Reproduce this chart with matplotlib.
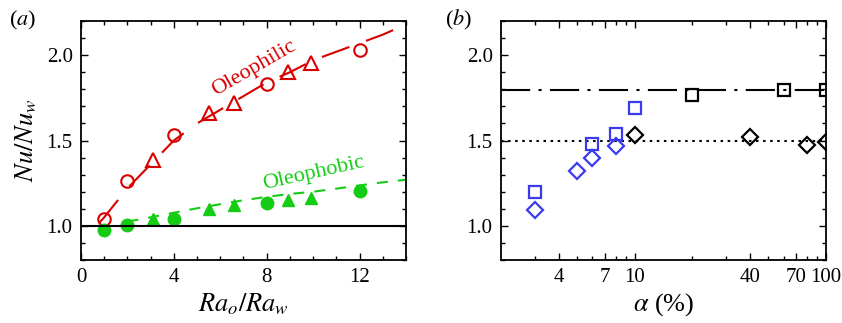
import matplotlib
matplotlib.use('Agg')
import matplotlib.pyplot as plt
from matplotlib.ticker import MultipleLocator, FixedLocator, NullFormatter

plt.rcParams['font.family'] = ['Liberation Serif', 'DejaVu Serif']
plt.rcParams['mathtext.fontset'] = 'stix'

RED = '#d90000'
GREEN = '#14cc14'
BLUE = '#3a3af0'

# panel (a): Nu/Nu_w against Ra_o/Ra_w
philic_circ_x = [1, 2, 4, 8, 12]
philic_circ_y = [1.04, 1.26, 1.53, 1.83, 2.03]
philic_tri_x = [3.1, 5.5, 6.6, 8.9, 9.9]
philic_tri_y = [1.385, 1.66, 1.72, 1.90, 1.955]
philic_fit_x = [0.8, 1, 2, 3, 4, 5, 6, 7, 8, 9, 10, 11, 12, 13, 14]
philic_fit_y = [1.02, 1.05, 1.22, 1.36, 1.50, 1.60, 1.68, 1.76, 1.84, 1.90, 1.97, 2.02, 2.07, 2.12, 2.18]

phobic_circ_x = [1, 2, 4, 8, 12]
phobic_circ_y = [0.977, 1.004, 1.04, 1.136, 1.206]
phobic_tri_x = [3.1, 5.5, 6.6, 8.9, 9.9]
phobic_tri_y = [1.04, 1.10, 1.124, 1.154, 1.163]
phobic_fit_x = [2, 3, 4, 5, 6, 7, 8, 9, 10, 11, 12, 13, 14]
phobic_fit_y = [1.025, 1.05, 1.077, 1.103, 1.127, 1.15, 1.17, 1.187, 1.20, 1.218, 1.237, 1.255, 1.27]

# panel (b): Nu/Nu_w against alpha (%)
blue_sq_x = [3, 6, 8, 10]
blue_sq_y = [1.20, 1.48, 1.54, 1.69]
black_sq_x = [20, 60, 100]
black_sq_y = [1.765, 1.794, 1.798]
blue_dia_x = [3, 5, 6, 8]
blue_dia_y = [1.09, 1.32, 1.40, 1.47]
black_dia_x = [10, 40, 80, 100]
black_dia_y = [1.533, 1.52, 1.475, 1.494]
sq_level = 1.795
dia_level = 1.5

alpha_ticks = [4, 7, 10, 40, 70, 100]
nu_ticks = [1.0, 1.5, 2.0]


def style_axis(ax):
    for s in ax.spines.values():
        s.set_linewidth(1.3)
    ax.tick_params(which='both', direction='in', top=True, right=True,
                   labelsize=15, pad=6, width=1.0)
    ax.tick_params(which='major', length=5)
    ax.tick_params(which='minor', length=3)
    ax.set_ylim(0.8, 2.2)
    ax.set_yticks(nu_ticks)
    ax.set_yticklabels([f'{v:.1f}' for v in nu_ticks])
    ax.yaxis.set_minor_locator(MultipleLocator(0.1))


fig = plt.figure(figsize=(8.42, 3.23), dpi=100)
ax1 = fig.add_axes([81 / 842, 63 / 323, 325 / 842, 239 / 323])
ax2 = fig.add_axes([501 / 842, 63 / 323, 325 / 842, 239 / 323])

# ---- panel (a)
ax1.axhline(1.0, color='black', lw=1.5, zorder=4)
ax1.plot(philic_fit_x, philic_fit_y, color=RED, lw=1.5, dashes=(14, 8.5), zorder=2)
ax1.plot(phobic_fit_x, phobic_fit_y, color=GREEN, lw=1.5, dashes=(5.3, 4.8), zorder=2)
ax1.plot(philic_circ_x, philic_circ_y, 'o', ms=9, mfc='none', mec=RED, mew=1.5, zorder=3)
ax1.plot(philic_tri_x, philic_tri_y, '^', ms=10, mfc='none', mec=RED, mew=1.5, zorder=3)
ax1.plot(phobic_circ_x, phobic_circ_y, 'o', ms=9, color=GREEN, zorder=3)
ax1.plot(phobic_tri_x, phobic_tri_y, '^', ms=9, color=GREEN, zorder=3)
ax1.text(7.44, 1.922, 'Oleophilic', color=RED, fontsize=16, rotation=30,
         ha='center', va='center', rotation_mode='anchor')
ax1.text(10.03, 1.305, 'Oleophobic', color=GREEN, fontsize=16, rotation=12.6,
         ha='center', va='center', rotation_mode='anchor')
style_axis(ax1)
ax1.set_xlim(0, 14)
ax1.set_xticks([0, 4, 8, 12])
ax1.xaxis.set_minor_locator(MultipleLocator(1))
ax1.set_xlabel('$Ra_o/Ra_w$', fontsize=19)
ax1.set_ylabel('$Nu/Nu_w$', fontsize=19)
ax1.xaxis.set_label_coords(0.5, -0.13)
ax1.yaxis.set_label_coords(-0.13, 0.5)
fig.text(9 / 842, 1 - 20 / 323, '($a$)', fontsize=16, va='center', ha='left')

# ---- panel (b)
ax2.set_xscale('log')
ax2.axhline(sq_level, color='black', lw=1.5, dashes=(14, 4, 1.5, 4), zorder=2)
ax2.axhline(dia_level, color='black', lw=1.5, dashes=(1.2, 2.2), zorder=2)
ax2.plot(blue_sq_x, blue_sq_y, 's', ms=8, mfc='none', mec=BLUE, mew=1.6, zorder=3)
ax2.plot(black_sq_x, black_sq_y, 's', ms=8, mfc='none', mec='black', mew=1.6, zorder=3)
ax2.plot(blue_dia_x, blue_dia_y, 'D', ms=8, mfc='none', mec=BLUE, mew=1.6, zorder=3)
ax2.plot(black_dia_x, black_dia_y, 'D', ms=8, mfc='none', mec='black', mew=1.6, zorder=3)
style_axis(ax2)
ax2.set_xlim(2, 100)
ax2.xaxis.set_major_locator(FixedLocator(alpha_ticks))
ax2.xaxis.set_minor_locator(FixedLocator([3, 5, 6, 8, 9, 20, 30, 50, 60, 80, 90]))
ax2.xaxis.set_minor_formatter(NullFormatter())
ax2.set_xticklabels([str(v) for v in alpha_ticks])
ax2.set_xlabel(r'$\alpha$ (%)', fontsize=19)
ax2.xaxis.set_label_coords(0.5, -0.13)
fig.text(445 / 842, 1 - 20 / 323, '($b$)', fontsize=16, va='center', ha='left')

fig.savefig('out.png', dpi=100)
